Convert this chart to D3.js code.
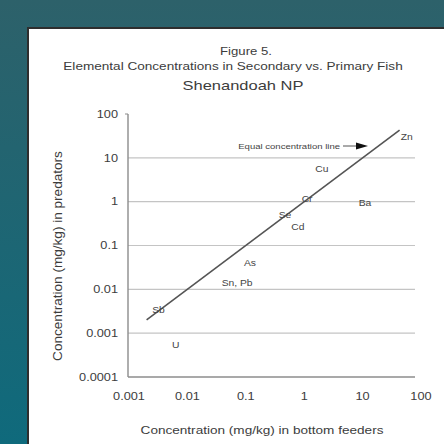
<!DOCTYPE html>
<html><head><meta charset="utf-8">
<script src="https://cdn.jsdelivr.net/npm/d3@7"></script>
<style>html,body{margin:0;padding:0;overflow:hidden;}svg{display:block;}</style>
</head><body>
<script>
const elements = ["Zn","Cu","Ba","Cr","Se","Cd","As","Sn, Pb","Sb","U"];
const bottomFeeders = [57, 2.0, 11, 1.12, 0.47, 0.78, 0.118, 0.071, 0.0032, 0.0063];
const predators = [30, 5.5, 0.93, 1.15, 0.49, 0.26, 0.040, 0.0138, 0.0034, 0.00054];
const xTicks = [0.001, 0.01, 0.1, 1, 10, 100];
const xTickLabels = ["0.001", "0.01", "0.1", "1", "10", "100"];
const yTicks = [0.0001, 0.001, 0.01, 0.1, 1, 10, 100];
const yTickLabels = ["0.0001", "0.001", "0.01", "0.1", "1", "10", "100"];
const equalLine = [0.002, 43];
const titles = ["Figure 5.", "Elemental Concentrations in Secondary vs. Primary Fish", "Shenandoah NP"];

const W = 444, H = 444;
const font = "'Liberation Sans', Arial, sans-serif";
const tcol = "#3c3c3c";
const SX = 1.22; // horizontal stretch of the source image's lettering
const svg = d3.select("body").append("svg").attr("width", W).attr("height", H);
const defs = svg.append("defs");
const grad = defs.append("linearGradient").attr("id","bg").attr("x1",0).attr("y1",0).attr("x2",0).attr("y2",1);
grad.append("stop").attr("offset","0%").attr("stop-color","#2d616a");
grad.append("stop").attr("offset","100%").attr("stop-color","#0f6a7c");
svg.append("rect").attr("width",W).attr("height",H).attr("fill","url(#bg)");
svg.append("rect").attr("x",28).attr("y",28).attr("width",440).attr("height",440)
  .attr("fill","#fff").attr("stroke","#2e2e2e").attr("stroke-width",2);

function fitSize(sample, width) {
  const t = svg.append("text").attr("font-family",font).attr("font-size",10).text(sample);
  const w = t.node().getComputedTextLength();
  t.remove();
  return 10 * width / w / SX;
}
function addText(parent, str, x0, y0, size, anchor, col, dy) {
  return parent.append("text")
    .attr("transform",`translate(${x0},${y0}) scale(${SX},1)`)
    .attr("text-anchor",anchor||"middle").attr("dy",dy||null)
    .attr("font-family",font).attr("font-size",size).attr("fill",col||tcol).text(str);
}

// titles
addText(svg, titles[0], 246, 55, fitSize(titles[0], 52));
addText(svg, titles[1], 233, 70, fitSize(titles[1], 340));
addText(svg, titles[2], 243, 90, fitSize(titles[2], 121));

const x = d3.scaleLog().domain([0.001, 100]).range([129, 421]);
const y = d3.scaleLog().domain([0.0001, 100]).range([377, 114]);

// gridlines
svg.append("g").selectAll("line").data(yTicks.filter(v => v > 0.0001 && v < 100)).join("line")
  .attr("x1",128).attr("x2",415).attr("y1",d=>y(d)).attr("y2",d=>y(d))
  .attr("stroke","#c4c4c4").attr("stroke-width",1.2);

// axes
svg.append("line").attr("x1",128).attr("x2",128).attr("y1",y(100)).attr("y2",y(0.0001))
  .attr("stroke","#8c8c8c").attr("stroke-width",1.4);
svg.append("line").attr("x1",128).attr("x2",415).attr("y1",y(0.0001)).attr("y2",y(0.0001))
  .attr("stroke","#8c8c8c").attr("stroke-width",1.4);
svg.append("line").attr("x1",125).attr("x2",128).attr("y1",y(100)).attr("y2",y(100))
  .attr("stroke","#8c8c8c");

// tick labels
const tickSize = fitSize("0.0001", 39);
const gy = svg.append("g");
yTicks.forEach((d,i)=> addText(gy, yTickLabels[i], 118, y(d), tickSize, "end", tcol, "0.35em"));
const gx = svg.append("g");
xTicks.forEach((d,i)=> addText(gx, xTickLabels[i], x(d), 400, tickSize, "middle", tcol));

// axis titles
const xt = "Concentration (mg/kg) in bottom feeders";
addText(svg, xt, 262, 434, fitSize(xt, 243));
const yt = "Concentration (mg/kg) in predators";
svg.append("text").attr("transform","translate(62,256) rotate(-90)").attr("text-anchor","middle")
  .attr("font-family",font).attr("font-size",fitSize(yt, 210)*SX).attr("fill",tcol).text(yt);

// equal concentration line
svg.append("line").attr("x1",x(equalLine[0])).attr("y1",y(equalLine[0]))
  .attr("x2",x(equalLine[1])).attr("y2",y(equalLine[1]))
  .attr("stroke","#555").attr("stroke-width",1.6);

// annotation
const ann = "Equal concentration line";
addText(svg, ann, 340, 148.5, fitSize(ann, 102), "end", "#444");
svg.append("line").attr("x1",343).attr("x2",357).attr("y1",146).attr("y2",146)
  .attr("stroke","#555").attr("stroke-width",1);
svg.append("path").attr("d","M356,142.5 L368,146 L356,149.5 Z").attr("fill","#111");

// element points (labels)
const labSize = fitSize("Sn, Pb", 31);
const gp = svg.append("g");
elements.forEach((e,i)=> addText(gp, e, x(bottomFeeders[i]), y(predators[i]), labSize, "middle", "#444", "0.35em"));
</script>
</body></html>
